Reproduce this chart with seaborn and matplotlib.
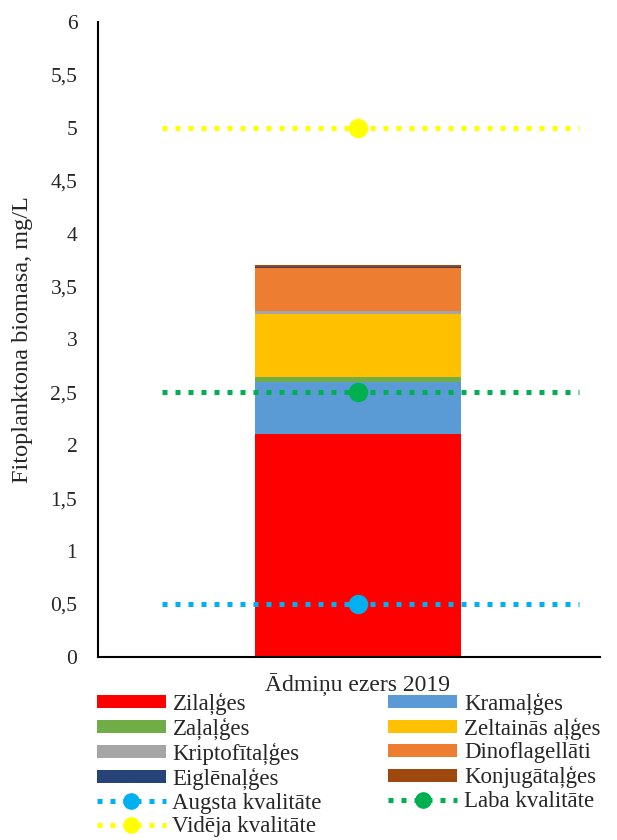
import numpy as np
import pandas as pd
import matplotlib
matplotlib.use("Agg")
import matplotlib.pyplot as plt
import seaborn as sns
from matplotlib.lines import Line2D
from matplotlib.patches import Patch

# data
category = "Ādmiņu ezers 2019"
groups = ["Zilaļģes", "Kramaļģes", "Zaļaļģes", "Zeltainās aļģes",
          "Kriptofītaļģes", "Dinoflagellāti", "Eiglēnaļģes", "Konjugātaļģes"]
biomass = [2.11, 0.49, 0.04, 0.60, 0.03, 0.40, 0.015, 0.02]
group_colors = ["#FF0000", "#5B9BD5", "#70AD47", "#FFC000",
                "#A5A5A5", "#ED7D31", "#264478", "#9E480E"]

quality_names = ["Augsta kvalitāte", "Laba kvalitāte", "Vidēja kvalitāte"]
quality_values = [0.5, 2.5, 5.0]
quality_colors = ["#00B0F0", "#00B050", "#FFFF00"]

sns.set_style("white")
plt.rcParams["font.family"] = ["Liberation Serif", "DejaVu Serif"]

fig = plt.figure(figsize=(6.17, 8.4), dpi=100)
ax = fig.add_axes([0.159, 0.218, 0.813, 0.756])

# stacked bar: draw cumulative totals from the top down
tops = np.cumsum(biomass)
for name, top, col in reversed(list(zip(groups, tops, group_colors))):
    df = pd.DataFrame({"cat": [category], "val": [top]})
    sns.barplot(data=df, x="cat", y="val", color=col, saturation=1,
                width=0.41, ax=ax, linewidth=0)

# quality threshold lines with a marker in the middle
line_x = [-0.39, 0.0, 0.44]
for name, v, col in zip(quality_names, quality_values, quality_colors):
    sns.lineplot(x=line_x, y=[v] * len(line_x), ax=ax, color=col,
                 linewidth=3.6, linestyle=(0, (1, 1.6)), marker="o",
                 markersize=14, markevery=[1], markeredgewidth=0)

ax.set_xlim(-0.518, 0.482)
ax.set_ylim(0, 6)
yt = np.arange(0, 6.01, 0.5)
ax.set_yticks(yt)
ax.set_yticklabels([f"{t:g}".replace(".", ",") for t in yt])
ax.tick_params(axis="y", length=0, pad=15, labelsize=15.5)
ax.tick_params(axis="x", length=0, pad=12.5, labelsize=17)
ax.set_xlabel("")
ax.set_ylabel("Fitoplanktona biomasa, mg/L", fontsize=17.5)
ax.yaxis.set_label_coords(-0.129, 0.5)
sns.despine(ax=ax)
for s in ["left", "bottom"]:
    ax.spines[s].set_color("black")
    ax.spines[s].set_linewidth(1.5)

# legend, filled row by row like the original
bar_handles = [Patch(facecolor=c, edgecolor="none") for c in group_colors]
line_handles = [Line2D([0, 1, 2], [0, 0, 0], color=c, linewidth=3.6,
                       linestyle=(0, (1, 1.6)), marker="o", markersize=12,
                       markevery=[1], markeredgewidth=0)
                for c in quality_colors]
all_handles = bar_handles + line_handles
all_labels = groups + quality_names
order = [0, 2, 4, 6, 8, 10, 1, 3, 5, 7, 9]
fig.legend([all_handles[i] for i in order], [all_labels[i] for i in order],
           loc="upper left", bbox_to_anchor=(0.157, 0.176), ncol=2,
           frameon=False, fontsize=16.5, handlelength=3.0, handleheight=0.5,
           columnspacing=2.9, labelspacing=0.12, handletextpad=0.3,
           borderaxespad=0, borderpad=0)

fig.savefig("out.png", dpi=100)
